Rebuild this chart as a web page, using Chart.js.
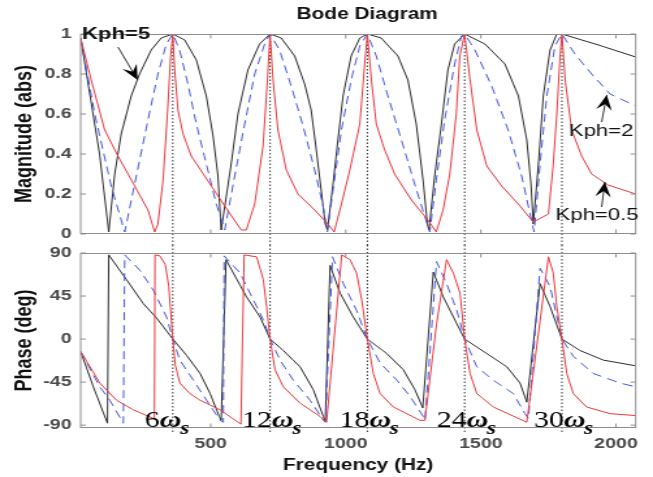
<!DOCTYPE html>
<html lang="en">
<head>
<meta charset="UTF-8">
<title>Bode Diagram</title>
<script src="https://cdn.jsdelivr.net/npm/chart.js"></script>
<style>
    body { margin: 0; background: #fff; }
    .wrap { position: relative; width: 653px; height: 477px; overflow: hidden; }
    canvas { position: absolute; left: 0; }
    #magChart { top: 0; }
    #phaseChart { top: 245px; }
</style>
</head>
<body>
<div class="wrap">
    <canvas id="magChart" width="502" height="245" style="width:653px;height:245px"></canvas>
    <canvas id="phaseChart" width="502" height="232" style="width:653px;height:232px"></canvas>
</div>
<script>
// axes
const freqTicks = [500, 1000, 1500, 2000];
const magTicks = [0, 0.2, 0.4, 0.6, 0.8, 1];
const phaseTicks = [-90, -45, 0, 45, 90];
const harmonicFreqs = [360, 720, 1080, 1440, 1800];
const harmonicOrders = ['6', '12', '18', '24', '30'];

// magnitude, Kph = 5
const mag5Freq = [19, 89, 123, 145, 169, 206, 237, 280, 317, 360, 404, 447, 484, 509, 527, 539, 576, 601, 638, 681,
    720, 761, 811, 848, 872, 891, 909, 924, 932, 953, 971, 990, 1020, 1052, 1080, 1131, 1193, 1230, 1261, 1286,
    1302, 1308, 1329, 1354, 1378, 1403, 1440, 1515, 1589, 1639, 1670, 1686, 1694, 1713, 1731, 1756, 1781, 1800, 1935, 2073];
const mag5 = [0.98, 0.40, 0.01, 0.30, 0.50, 0.69, 0.80, 0.92, 0.98, 1.0, 0.97, 0.87, 0.69, 0.49, 0.29, 0.02, 0.35, 0.60, 0.82, 0.95,
    1.0, 0.98, 0.89, 0.75, 0.62, 0.42, 0.22, 0.05, 0.02, 0.25, 0.47, 0.69, 0.89, 0.98, 1.0, 0.98, 0.89, 0.77, 0.55, 0.27,
    0.05, 0.02, 0.29, 0.55, 0.82, 0.95, 1.0, 0.95, 0.85, 0.69, 0.47, 0.24, 0.05, 0.35, 0.69, 0.92, 1.0, 1.0, 0.945, 0.885];

// magnitude, Kph = 2
const mag2Freq = [19, 71, 132, 182, 225, 268, 305, 336, 360, 385, 416, 447, 484, 521, 552, 589, 626, 663, 700, 720,
    755, 798, 842, 885, 916, 932, 953, 984, 1020, 1052, 1080, 1113, 1156, 1206, 1255, 1292, 1311, 1335, 1366, 1403,
    1428, 1440, 1478, 1540, 1601, 1651, 1682, 1697, 1719, 1744, 1774, 1800, 1848, 1910, 1978, 2073];
const mag2 = [0.98, 0.60, 0.24, 0.01, 0.29, 0.57, 0.80, 0.95, 1.0, 0.92, 0.75, 0.55, 0.35, 0.15, 0.02, 0.29, 0.55, 0.80, 0.95, 1.0,
    0.92, 0.74, 0.54, 0.32, 0.14, 0.01, 0.22, 0.52, 0.77, 0.94, 1.0, 0.89, 0.69, 0.47, 0.25, 0.09, 0.01, 0.27, 0.57, 0.85,
    0.99, 1.0, 0.92, 0.74, 0.52, 0.29, 0.10, 0.01, 0.35, 0.69, 0.94, 1.0, 0.90, 0.80, 0.70, 0.64];

// magnitude, Kph = 0.5
const mag05Freq = [19, 58, 108, 157, 219, 268, 293, 305, 324, 340, 352, 360, 367, 379, 398, 428, 478, 552, 613, 632,
    663, 694, 710, 720, 731, 749, 780, 823, 885, 934, 957, 984, 1015, 1052, 1070, 1080, 1095, 1113, 1144, 1181,
    1243, 1304, 1335, 1360, 1385, 1409, 1422, 1440, 1460, 1485, 1522, 1577, 1645, 1694, 1750, 1768, 1781, 1793, 1800, 1812,
    1836, 1873, 1910, 1971, 2073];
const mag05 = [0.98, 0.77, 0.52, 0.39, 0.24, 0.12, 0.01, 0.05, 0.27, 0.60, 0.89, 1.0, 0.82, 0.62, 0.50, 0.39, 0.29, 0.14, 0.02, 0.02,
    0.15, 0.44, 0.77, 1.0, 0.77, 0.52, 0.32, 0.20, 0.12, 0.05, 0.01, 0.15, 0.32, 0.55, 0.85, 1.0, 0.77, 0.55, 0.42, 0.30,
    0.17, 0.07, 0.01, 0.12, 0.30, 0.60, 0.89, 1.0, 0.77, 0.52, 0.34, 0.24, 0.14, 0.06, 0.10, 0.35, 0.60, 0.89, 1.0, 0.77,
    0.52, 0.39, 0.30, 0.245, 0.20];

// phase, Kph = 5
const phase5Freq = [19, 66, 118, 123, 189, 251, 300, 360, 411, 461, 498, 532, 539, 557, 584, 633, 683, 720, 769, 831,
    880, 917, 924, 942, 979, 1028, 1080, 1151, 1213, 1256, 1285, 1324, 1361, 1411, 1440, 1521, 1596, 1645, 1670, 1719,
    1756, 1800, 1867, 1953, 2073];
const phase5 = [-13, -50, -88, 88, 62, 37, 22, 0, -17, -36, -57, -81, -85, 83, 69, 44, 23, 0, -12, -29,
    -53, -81, -86, 77, 48, 23, 0, -15, -32, -53, -72, 70, 44, 16, 0, -15, -29, -46, -66, 58,
    34, 0, -12, -22, -28];

// phase, Kph = 2
const phase2Freq = [19, 90, 127, 177, 182, 238, 288, 337, 360, 386, 436, 485, 535, 547, 550, 609, 658, 695, 720, 757,
    806, 868, 917, 925, 951, 991, 1040, 1080, 1127, 1189, 1238, 1287, 1293, 1336, 1373, 1411, 1440, 1485, 1546, 1620,
    1663, 1676, 1719, 1756, 1800, 1842, 1916, 2015, 2073];
const phase2 = [-13, -50, -64, -88, 88, 72, 51, 23, 0, -22, -43, -64, -85, -87, 87, 69, 41, 20, 0, -22,
    -43, -64, -85, -87, 86, 58, 30, 0, -25, -43, -60, -81, -85, 81, 58, 30, 0, -29, -43, -57,
    -78, -83, 74, 55, 0, -18, -36, -46, -50];

// phase, Kph = 0.5
const phase05Freq = [19, 90, 152, 214, 288, 292, 294, 312, 332, 345, 360, 369, 386, 423, 461, 535, 612, 624, 670, 695,
    707, 720, 738, 769, 831, 905, 929, 985, 1016, 1040, 1059, 1080, 1102, 1127, 1176, 1275, 1293, 1336, 1373, 1398,
    1423, 1440, 1460, 1485, 1546, 1670, 1750, 1768, 1781, 1800, 1818, 1842, 1891, 1978, 2073];
const phase05 = [-13, -46, -64, -74, -83, -84, 88, 87, 78, 55, 0, -27, -46, -57, -64, -74, -89, 88, 86, 62,
    34, 0, -32, -50, -67, -81, -87, 88, 83, 69, 41, 0, -36, -57, -71, -85, -85, 16, 83, 69,
    48, 0, -36, -57, -71, -87, 86, 69, 34, 0, -36, -57, -71, -78, -80];

// the picture is stretched sideways, the canvases are drawn narrow and widened by css
const S = 653 / 502;
const SANS = '"Liberation Sans", Arial, sans-serif';
const SERIF = '"Liberation Serif", "Times New Roman", serif';
Chart.defaults.font.family = SANS;

const BLACK = '#2b2b2b', BLUE = '#4557e6', RED = '#e8393e';
const pts = (xs, ys) => xs.map((x, i) => ({ x, y: ys[i] }));

const series = (data, color, dash) => ({
    data, borderColor: color, borderWidth: 1, borderDash: dash || [],
    showLine: true, pointRadius: 0, tension: 0, fill: false
});

const tickFont = { family: SANS, size: 15, weight: 'bold' };

// keep the plot boxes where they are, whatever the tick labels want
const noPad = s => { s.paddingTop = 0; s.paddingBottom = 0; s.paddingLeft = 0; s.paddingRight = 0; };

const xAxis = (labels) => ({
    type: 'linear', min: 19, max: 2073,
    grid: { display: false, drawTicks: false }, border: { display: false },
    afterBuildTicks: s => { s.ticks = freqTicks.map(v => ({ value: v })); },
    ticks: { display: labels, font: tickFont, color: '#4a4a4a', padding: 7, maxRotation: 0, autoSkip: false,
        callback: v => String(v) },
    title: { display: labels, text: 'Frequency (Hz)', color: '#111',
        font: { family: SANS, size: 16, weight: 'bold' }, padding: { top: 0, bottom: 2 } },
    afterFit: s => { s.height = labels ? 49 : 11; noPad(s); }
});

const yAxis = (min, max, list, label) => ({
    type: 'linear', min, max,
    grid: { display: false, drawTicks: false }, border: { display: false },
    afterBuildTicks: s => { s.ticks = list.map(v => ({ value: v })); },
    ticks: { font: tickFont, color: '#4a4a4a', padding: 7, callback: v => String(v) },
    title: { display: true, text: label, color: '#111',
        font: { family: SANS, size: 18, weight: 'bold' }, padding: { top: 8, bottom: 0 } },
    afterFit: s => { s.width = 62; noPad(s); }
});

function line(ctx, x1, y1, x2, y2) {
    ctx.beginPath(); ctx.moveTo(x1, y1); ctx.lineTo(x2, y2); ctx.stroke();
}

// box, inward ticks and the dotted harmonic lines
const framePlugin = (yList, lineFrom, lineTo) => ({
    id: 'frame',
    beforeDatasetsDraw(chart) {
        const { ctx, chartArea: a, scales } = chart;
        ctx.save();
        ctx.strokeStyle = '#333';
        ctx.lineWidth = 1;
        ctx.setLineDash([1.5, 2]);
        harmonicFreqs.forEach(f => {
            const x = scales.x.getPixelForValue(f);
            line(ctx, x, lineFrom(a), x, lineTo(a));
        });
        ctx.restore();
    },
    afterDraw(chart) {
        const { ctx, chartArea: a, scales } = chart;
        ctx.save();
        ctx.strokeStyle = '#8e8e8e';
        ctx.lineWidth = 1;
        const top = Math.round(a.top) + 0.5, bottom = Math.round(a.bottom) - 0.5;
        ctx.strokeRect(a.left, top, a.right - a.left, bottom - top);
        freqTicks.forEach(v => {
            const x = scales.x.getPixelForValue(v);
            line(ctx, x, top, x, top + 4);
            line(ctx, x, bottom, x, bottom - 4);
        });
        yList.forEach(v => {
            const y = scales.y.getPixelForValue(v);
            line(ctx, a.left, y, a.left + 4, y);
            line(ctx, a.right, y, a.right - 4, y);
        });
        ctx.restore();
    }
});

// "Kph" notes with arrows, placed in data units
const notes = [
    { text: 'Kph=5', weight: 'bold', at: [24, 1.0], align: 'left', tail: [157, 0.935], tip: [230, 0.77] },
    { text: 'Kph=2', weight: 'normal', at: [1945, 0.515], align: 'center', tail: [1947, 0.56], tip: [1966, 0.695] },
    { text: 'Kph=0.5', weight: 'normal', at: [1930, 0.095], align: 'center', tail: [1947, 0.135], tip: [1959, 0.26] }
];

const notesPlugin = {
    id: 'notes',
    afterDraw(chart) {
        const { ctx, chartArea: a, scales: { x, y } } = chart;
        ctx.save();
        ctx.fillStyle = '#111';
        ctx.font = 'bold 16px ' + SANS;
        ctx.textAlign = 'center';
        ctx.textBaseline = 'middle';
        ctx.fillText('Bode Diagram', (a.left + a.right) / 2 + 9 / S, 15);

        notes.forEach(n => {
            ctx.font = n.weight + ' 17px ' + SANS;
            ctx.textAlign = n.align;
            ctx.fillText(n.text, x.getPixelForValue(n.at[0]), y.getPixelForValue(n.at[1]));
            const tx = x.getPixelForValue(n.tail[0]), ty = y.getPixelForValue(n.tail[1]);
            const hx = x.getPixelForValue(n.tip[0]), hy = y.getPixelForValue(n.tip[1]);
            ctx.strokeStyle = '#333';
            ctx.lineWidth = 1;
            line(ctx, tx, ty, hx, hy);
            const len = Math.hypot(hx - tx, hy - ty);
            const dx = (hx - tx) / len, dy = (hy - ty) / len;
            const L = 15, W = 6;
            ctx.beginPath();
            ctx.moveTo(hx, hy);
            ctx.lineTo(hx - L * dx - W * dy, hy - L * dy + W * dx);
            ctx.lineTo(hx - 0.6 * L * dx, hy - 0.6 * L * dy);
            ctx.lineTo(hx - L * dx + W * dy, hy - L * dy - W * dx);
            ctx.closePath();
            ctx.fillStyle = '#000';
            ctx.fill();
            ctx.fillStyle = '#111';
        });
        ctx.restore();
    }
};

// 6ωs, 12ωs ... under the dotted lines
const orderPlugin = {
    id: 'orders',
    afterDraw(chart) {
        const { ctx, chartArea: a, scales } = chart;
        ctx.save();
        ctx.fillStyle = '#000';
        ctx.textAlign = 'left';
        ctx.textBaseline = 'alphabetic';
        harmonicFreqs.forEach((f, i) => {
            let px = scales.x.getPixelForValue(f) - 28 / S;
            const base = a.bottom - 1;
            ctx.font = '23px ' + SERIF;
            ctx.fillText(harmonicOrders[i], px, base);
            px += ctx.measureText(harmonicOrders[i]).width;
            ctx.font = 'italic bold 23px ' + SERIF;
            ctx.fillText('ω', px, base);
            px += ctx.measureText('ω').width - 1;
            ctx.font = 'italic bold 18px ' + SERIF;
            ctx.fillText('s', px, base + 7);
        });
        ctx.restore();
    }
};

const common = {
    responsive: false,
    animation: false,
    devicePixelRatio: 1,
    plugins: { legend: { display: false }, tooltip: { enabled: false } }
};

new Chart(document.getElementById('magChart'), {
    type: 'scatter',
    data: {
        datasets: [
            series(pts(mag05Freq, mag05), RED),
            series(pts(mag2Freq, mag2), BLUE, [8, 5]),
            series(pts(mag5Freq, mag5), BLACK)
        ]
    },
    options: {
        ...common,
        layout: { padding: { top: 34, right: 502 - 635.7 / S, bottom: 0, left: 0 } },
        scales: { x: xAxis(false), y: yAxis(0, 1, magTicks, 'Magnitude (abs)') }
    },
    plugins: [framePlugin(magTicks, a => a.top, () => 245), notesPlugin]
});

new Chart(document.getElementById('phaseChart'), {
    type: 'scatter',
    data: {
        datasets: [
            series(pts(phase05Freq, phase05), RED),
            series(pts(phase2Freq, phase2), BLUE, [8, 5]),
            series(pts(phase5Freq, phase5), BLACK)
        ]
    },
    options: {
        ...common,
        layout: { padding: { top: 8, right: 502 - 635.7 / S, bottom: 0, left: 0 } },
        scales: { x: xAxis(true), y: yAxis(-93, 90, phaseTicks, 'Phase (deg)') }
    },
    plugins: [framePlugin(phaseTicks, () => 0, a => a.bottom + 6), orderPlugin]
});
</script>
</body>
</html>
